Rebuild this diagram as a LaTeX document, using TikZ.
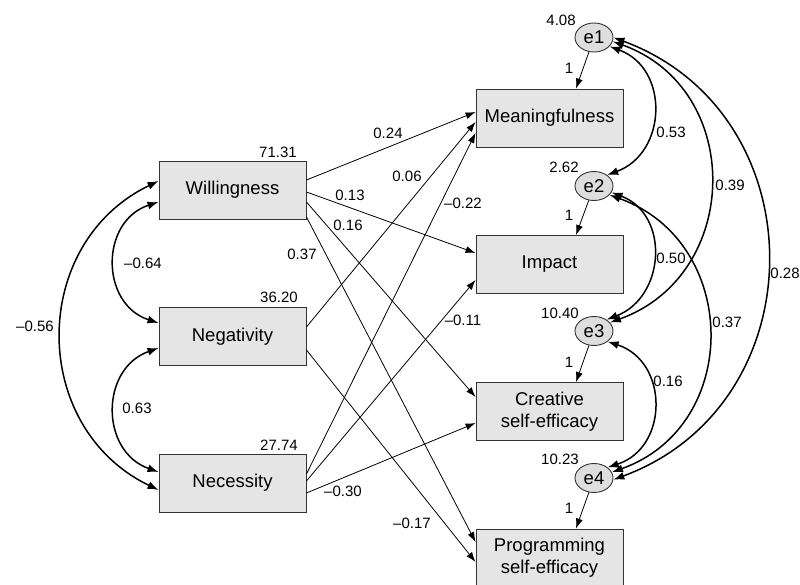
\documentclass[tikz,border=0pt]{standalone}
\usepackage{fontspec}
\setmainfont{Liberation Sans}
\usetikzlibrary{arrows.meta,shapes.geometric}
\begin{document}
\begin{tikzpicture}[x=1pt,y=-1pt,
  obs/.style={draw=black!80, fill=black!10, line width=0.9pt, minimum width=147pt, minimum height=58pt, inner sep=0pt, align=center, font=\fontsize{18.5}{22}\selectfont},
  err/.style={ellipse, draw=black!80, fill=black!13, line width=0.9pt, minimum width=38pt, minimum height=29pt, inner sep=0pt, font=\fontsize{18.5}{22}\selectfont},
  num/.style={inner sep=0pt, font=\fontsize{15}{18}\selectfont},
  path/.style={line width=0.8pt, -{Latex[length=10pt,width=7pt]}},
  cov/.style={line width=1.5pt, {Latex[length=11pt,width=8pt]}-{Latex[length=11pt,width=8pt]}}]
\useasboundingbox (0,0) rectangle (800,585);
% observed exogenous
\node[obs] (W) at (232.5,190) {Willingness};
\node[obs] (Ng) at (232.5,336.5) {Negativity};
\node[obs] (Nc) at (232.5,483) {Necessity};
% endogenous
\node[obs] (M) at (549.5,118) {Meaningfulness};
\node[obs] (I) at (549.5,264.5) {Impact};
\node[obs] (C) at (549.5,411.5) {Creative\\self-efficacy};
\node[obs] (P) at (549.5,558) {Programming\\self-efficacy};
% errors
\node[err] (e1) at (594,37.5) {e1};
\node[err] (e2) at (594,186) {e2};
\node[err] (e3) at (594,331) {e3};
\node[err] (e4) at (594,478) {e4};
% error paths
\draw[path] (e1) -- ([xshift=26.5pt]M.north);
\draw[path] (e2) -- ([xshift=26.5pt]I.north);
\draw[path] (e3) -- ([xshift=26.5pt]C.north);
\draw[path] (e4) -- ([xshift=26.5pt]P.north);
\node[num] (one1) at (569,68) {1};
\node[num] (one2) at (569,215) {1};
\node[num] (one3) at (569,362) {1};
\node[num] (one4) at (569,508) {1};
% variances
\node[num] (v1) at (561,20) {4.08};
\node[num] (v2) at (564,167) {2.62};
\node[num] (v3) at (560,313) {10.40};
\node[num] (v4) at (560,459) {10.23};
\node[num] (vW) at (278,152) {71.31};
\node[num] (vNg) at (279,297) {36.20};
\node[num] (vNc) at (279,445) {27.74};
% structural paths
\draw[path] ([yshift=10pt]W.east) -- ([yshift=6pt]M.west);
\draw[path] ([yshift=-2pt]W.east) -- ([yshift=11.5pt]I.west);
\draw[path] ([yshift=-12pt]W.east) -- ([yshift=14.5pt]C.west);
\draw[path] ([yshift=-27pt]W.east) -- ([yshift=16pt]P.west);
\draw[path] ([yshift=9.5pt]Ng.east) -- ([yshift=-4pt]M.west);
\draw[path] ([yshift=-13.5pt]Ng.east) -- ([yshift=-4pt]P.west);
\draw[path] ([yshift=9pt]Nc.east) -- ([yshift=-15pt]M.west);
\draw[path] ([yshift=2pt]Nc.east) -- ([yshift=-15.5pt]I.west);
\draw[path] ([yshift=-10pt]Nc.east) -- ([yshift=-11.5pt]C.west);
% path labels
\node[num] (l1) at (388,133) {0.24};
\node[num] (l2) at (407,176) {0.06};
\node[num] (l3) at (350,195) {0.13};
\node[num] (l4) at (348,225) {0.16};
\node[num] (l5) at (302,254) {0.37};
\node[num] (l6) at (463,203) {–0.22};
\node[num] (l7) at (463,320) {–0.11};
\node[num] (l8) at (343,491) {–0.30};
\node[num] (l9) at (412,523) {–0.17};
% left covariances (circular arcs)
\draw[cov] ([yshift=-12pt]W.west) .. controls +(-58.6,19.0) and +(-58.6,-19.0) .. ([yshift=13.5pt]Ng.west);
\draw[cov] ([yshift=-11.5pt]Ng.west) .. controls +(-58.6,20.6) and +(-58.6,-20.6) .. ([yshift=11pt]Nc.west);
\draw[cov] ([yshift=9pt]W.west) .. controls +(-129.6,62.4) and +(-129.6,-62.4) .. ([yshift=-7pt]Nc.west);
\node[num] (c1) at (143,263) {–0.64};
\node[num] (c2) at (137,408) {0.63};
\node[num] (c3) at (35,326) {–0.56};
% right covariances (circular arcs)
\draw[cov] (e1.-30) .. controls +(60.1,22.0) and +(60.1,-22.0) .. (e2.40);
\draw[cov] (e1.-12) .. controls +(132.0,47.3) and +(132.0,-47.3) .. (e3.28);
\draw[cov] (e1.0) .. controls +(205.2,75.7) and +(205.2,-75.7) .. (e4.-5);
\draw[cov] (e2.-20) .. controls +(58.7,22.4) and +(58.7,-22.4) .. (e3.42);
\draw[cov] (e2.-30) .. controls +(130.5,46.4) and +(130.5,-46.4) .. (e4.18);
\draw[cov] (e3.-38) .. controls +(61.3,19.8) and +(61.3,-19.8) .. (e4.38);
\node[num] (r1) at (671,132) {0.53};
\node[num] (r2) at (730,185) {0.39};
\node[num] (r3) at (671,258) {0.50};
\node[num] (r4) at (785,273) {0.28};
\node[num] (r5) at (727,322) {0.37};
\node[num] (r6) at (668,381) {0.16};
\end{tikzpicture}
\end{document}
